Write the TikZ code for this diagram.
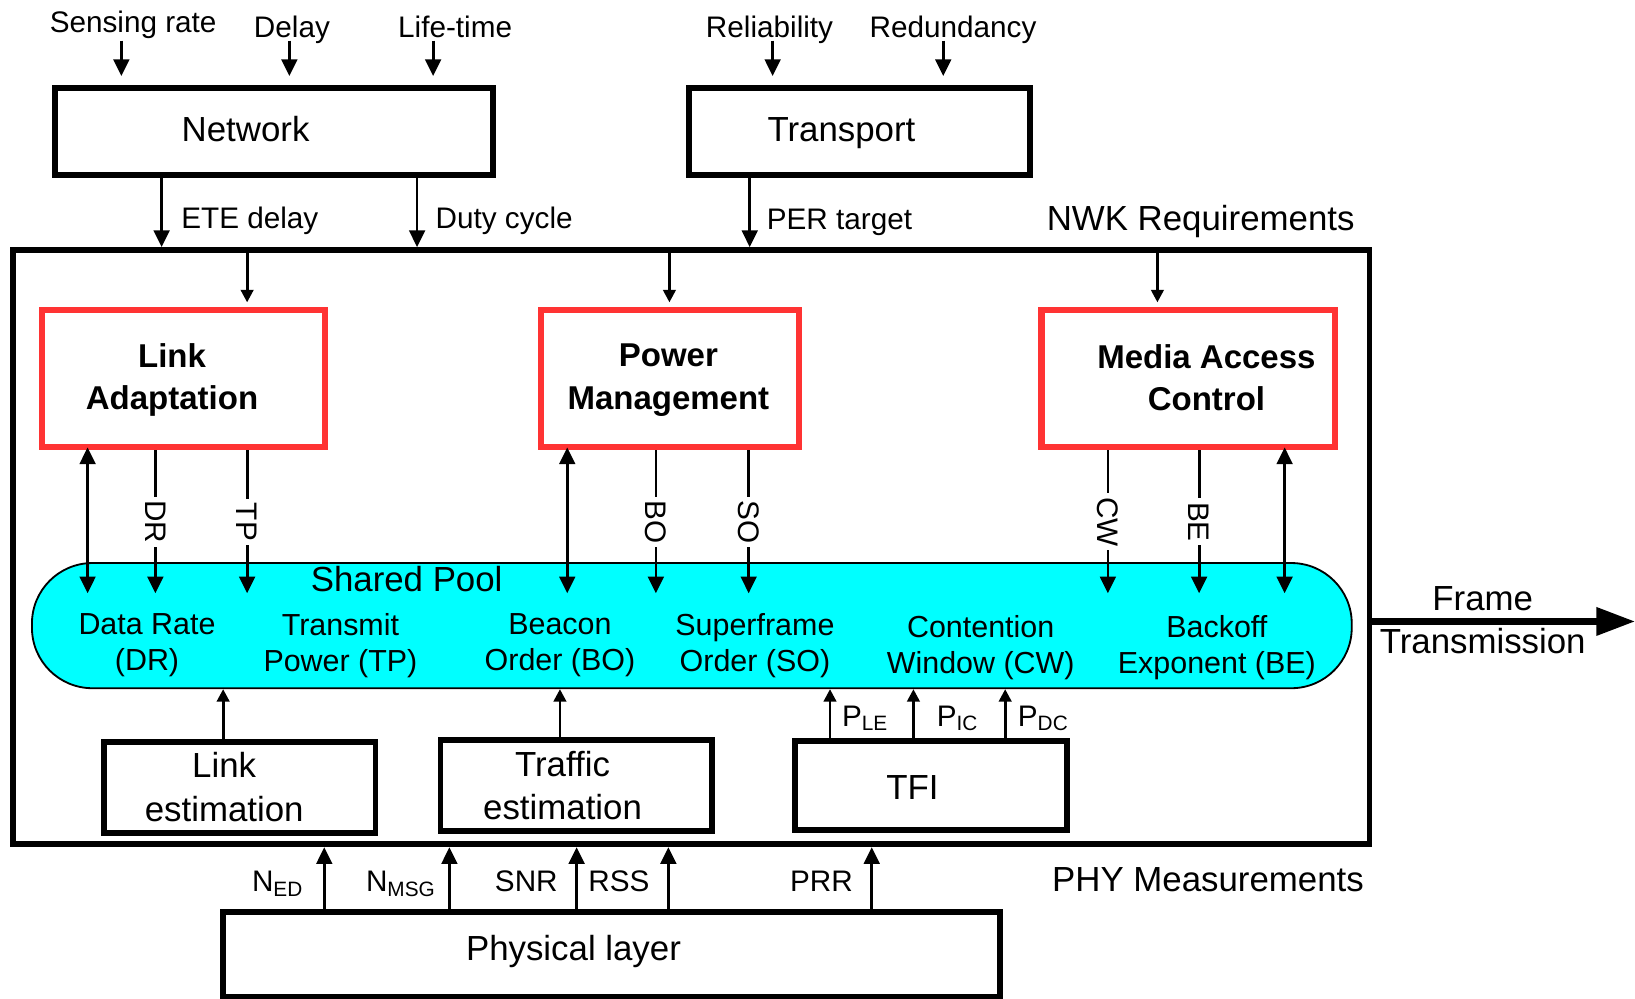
\documentclass[tikz,border=0pt]{standalone}
\usepackage{fontspec}
\setmainfont{Liberation Sans}
\usetikzlibrary{arrows.meta,calc}

\begin{document}
\begin{tikzpicture}[x=0.01cm,y=-0.01cm,
 arr/.style={line width=0.75pt,-{Triangle[length=0.16cm,width=0.15cm]}},
 arrs/.style={line width=0.75pt,-{Triangle[length=0.12cm,width=0.12cm]}},
 dbl/.style={line width=0.75pt,{Triangle[length=0.16cm,width=0.15cm]}-{Triangle[length=0.16cm,width=0.15cm]}},
 layerbox/.style={draw,line width=1.6pt,inner sep=0pt},
 block/.style={draw=boxred,line width=1.7pt,inner sep=0pt,minimum height=1.32cm},
 big/.style={font=\fontsize{9.5}{11.8}\selectfont,align=center,inner sep=0pt},
 heavy/.style={font=\bfseries\fontsize{9}{11.6}\selectfont,align=center,inner sep=0pt},
 item/.style={font=\fontsize{8.3}{9.8}\selectfont,align=center,inner sep=0pt},
 small/.style={font=\fontsize{8.1}{9.8}\selectfont,inner sep=1pt},
 tag/.style={small,fill=white,rotate=-90},
]

\definecolor{boxred}{HTML}{FF3333}
\definecolor{poolcyan}{HTML}{00FFFF}

\useasboundingbox (0,0) rectangle (1568,958);

% columns of the connectors
\foreach \n/\x in {csr/116.4,cdl/277.5,clt/415.4,crl/741,crd/904.6,cete/155,cdc/400,cper/719,
  cla/237,cpm/642,cmac/1110,cdra/84,cdr/149,ctp/237,cboa/544,cbo/629,cso/718,
  ccw/1062.5,cbe/1150,cbea/1232,cle/214,cte/537,cple/796,cpic/876,cpdc/964,
  cned/311,cnmsg/431,csnr/553,crss/641,cprr/836}
  \coordinate (\n) at (\x,0);
\coordinate (topy) at (0,39);
\coordinate (tipy) at (0,569);
\coordinate (fend) at (1568,596);

% upper layers
\node[layerbox,minimum width=4.2cm,minimum height=0.83cm] (net) at (262.75,126.3) {};
\node[layerbox,minimum width=3.27cm,minimum height=0.83cm] (trans) at (824.5,126.3) {};
\node[big,anchor=base] (netname) at (235.5,136) {Network};
\node[big,anchor=base] (transname) at (807,136) {Transport};

\node[small,anchor=base] (sr) at (127.7,31.5) {Sensing rate};
\node[small,anchor=base] (dl) at (280,35.5) {Delay};
\node[small,anchor=base] (lt) at (436.5,35.5) {Life-time};
\node[small,anchor=base] (rl) at (738,35.5) {Reliability};
\node[small,anchor=base] (rd) at (914,35.5) {Redundancy};

\foreach \c in {csr,cdl,clt}
  \draw[arr,shorten >=0.09cm] (\c |- topy) -- (net.north -| \c);
\foreach \c in {crl,crd}
  \draw[arr,shorten >=0.09cm] (\c |- topy) -- (trans.north -| \c);

% the node
\node[layerbox,minimum width=13.005cm,minimum height=5.695cm] (main) at (662.75,524.75) {};

\draw[arr] (net.south -| cete) -- (main.north -| cete)
  node[small,pos=0.73,anchor=base west,xshift=4pt] {ETE delay};
\draw[arr] (net.south -| cdc) -- (main.north -| cdc)
  node[small,pos=0.73,anchor=base west,xshift=3.7pt] {Duty cycle};
\draw[arr] (trans.south -| cper) -- (main.north -| cper)
  node[small,pos=0.75,anchor=base west,xshift=3.3pt] {PER target};
\node[big,anchor=base] (nwk) at (1151.5,221) {NWK Requirements};

\node[block,minimum width=2.715cm] (la) at (175.75,363) {};
\node[block,minimum width=2.47cm] (pm) at (642.5,363) {};
\node[block,minimum width=2.81cm] (mac) at (1139.5,363) {};
\node[heavy] (laname) at (165,364.4) {Link\\Adaptation};
\node[heavy] (pmname) at (641,364.4) {Power\\Management};
\node[heavy] (macname) at (1157,362.4) {Media Access\\Control};

\foreach \b/\c in {la/cla,pm/cpm,mac/cmac}
  \draw[arrs,shorten >=0.04cm] (main.north -| \c) -- (\b.north -| \c);

\node[draw,fill=poolcyan,line width=0.5pt,rounded corners=0.58cm,minimum width=12.65cm,
  minimum height=1.2cm,inner sep=0pt] (pool) at (663.5,600) {};
\node[big,anchor=base] (poolname) at (390,567) {Shared Pool};

\node[item] (dr) at (141,619) {Data Rate\\(DR)};
\node[item] (tp) at (326.5,619) {Transmit\\Power (TP)};
\node[item] (bo) at (537,619) {Beacon\\Order (BO)};
\node[item] (so) at (724,619) {Superframe\\Order (SO)};
\node[item] (cw) at (940.5,621) {Contention\\Window (CW)};
\node[item] (be) at (1167,621) {Backoff\\Exponent (BE)};

\newcommand{\poolfeed}[3]{\draw[arr] (#1.south -| #2) -- (#2 |- tipy) node[tag,midway] {#3};} % [block][column][text]
\poolfeed{la}{cdr}{DR}
\poolfeed{la}{ctp}{TP}
\poolfeed{pm}{cbo}{BO}
\poolfeed{pm}{cso}{SO}
\poolfeed{mac}{ccw}{CW}
\poolfeed{mac}{cbe}{BE}
\foreach \b/\c in {la/cdra,pm/cboa,mac/cbea}
  \draw[dbl,shorten <=-0.03cm] (\b.south -| \c) -- (\c |- tipy);

% estimators
\node[layerbox,minimum width=2.6cm,minimum height=0.87cm] (le) at (230,755.5) {};
\node[layerbox,minimum width=2.605cm,minimum height=0.87cm] (te) at (552.75,753.5) {};
\node[layerbox,minimum width=2.605cm,minimum height=0.85cm] (tfi) at (892.75,753.5) {};
\node[big] (lename) at (215,754.8) {Link\\estimation};
\node[big] (tename) at (539.5,753.6) {Traffic\\estimation};
\node[big,anchor=base] (tfiname) at (875,767) {TFI};

\draw[arrs] (le.north -| cle) -- (pool.south -| cle);
\draw[arrs] (te.north -| cte) -- (pool.south -| cte);
\draw[arrs] (tfi.north -| cple) -- (pool.south -| cple)
  node[small,pos=0.25,anchor=base west,xshift=1.9pt] {P\textsubscript{LE}};
\draw[arrs] (tfi.north -| cpic) -- (pool.south -| cpic)
  node[small,pos=0.25,anchor=base west,xshift=5pt] {P\textsubscript{IC}};
\draw[arrs] (tfi.north -| cpdc) -- (pool.south -| cpdc)
  node[small,pos=0.25,anchor=base west,xshift=2.1pt] {P\textsubscript{DC}};

% physical layer
\node[layerbox,minimum width=7.45cm,minimum height=0.81cm] (phy) at (586.5,915.5) {};
\node[big,anchor=base] (phyname) at (550,921) {Physical layer};

\newcommand{\phyarrow}[3]{\draw[arr] (phy.north -| #1) -- (main.south -| #1)
  node[small,pos=0.28,anchor=base east,xshift=#2] {#3};} % [column][shift][text]
\phyarrow{cned}{-4.1pt}{N\textsubscript{ED}}
\phyarrow{cnmsg}{-2.1pt}{N\textsubscript{MSG}}
\phyarrow{csnr}{-3.8pt}{SNR}
\phyarrow{crss}{-3.8pt}{RSS}
\phyarrow{cprr}{-3.8pt}{PRR}
\node[big,anchor=base] (phymeas) at (1158.5,854.5) {PHY Measurements};

\draw[line width=1.7pt,-{Triangle[length=0.37cm,width=0.26cm]}] (main.east |- fend) -- (fend)
  node[big,pos=0.42,above,inner sep=2pt] (frameup) {Frame}
  node[big,pos=0.42,below,inner sep=0.9pt] (framedown) {Transmission};

\end{tikzpicture}
\end{document}
